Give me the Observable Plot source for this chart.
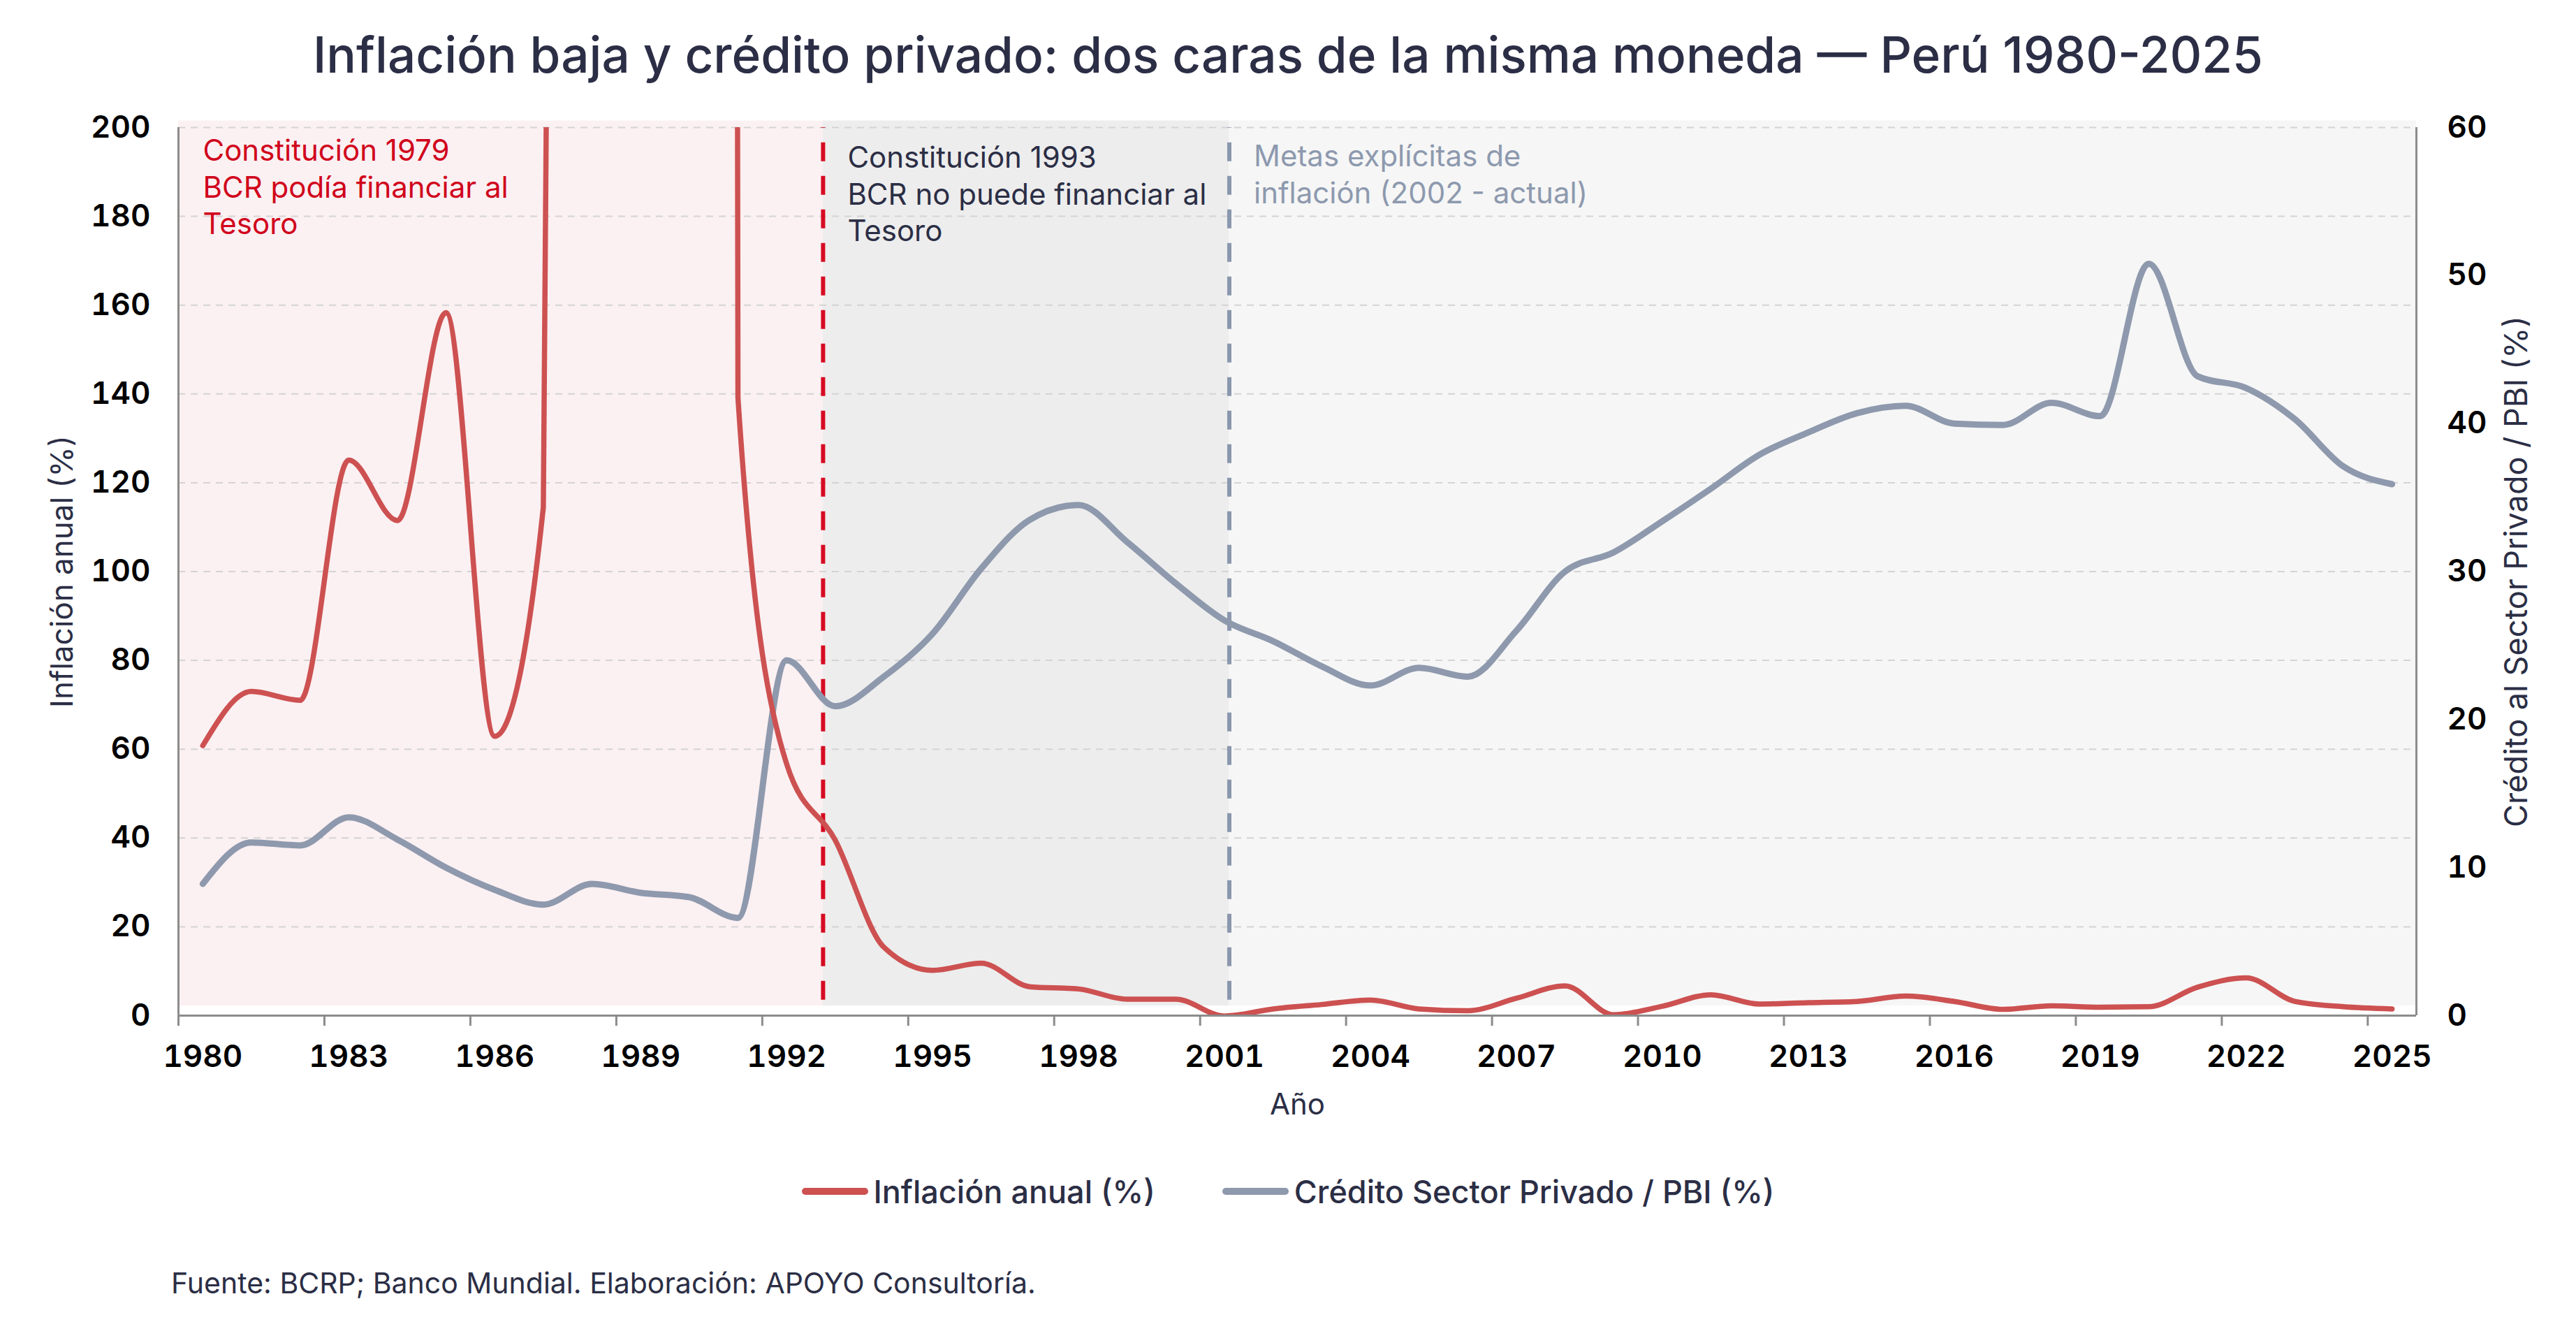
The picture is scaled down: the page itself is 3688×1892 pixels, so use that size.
<!DOCTYPE html>
<html><head><meta charset="utf-8">
<script src="https://cdn.jsdelivr.net/npm/d3@7"></script>
<script src="https://cdn.jsdelivr.net/npm/@observablehq/plot@0.6"></script>
<style>
html,body{margin:0;padding:0;background:#fff;}
#root{position:relative;width:3688px;height:1892px;font-family:Inter,"Noto Sans",sans-serif;color:#2b2e45;overflow:hidden;}
#title{position:absolute;left:0;width:3688px;top:43px;text-align:center;font-size:71px;font-weight:500;line-height:1;white-space:nowrap;}
#chart{position:absolute;left:0;top:130px;}
#legend{position:absolute;left:0;width:3688px;top:1680px;height:50px;display:flex;justify-content:center;align-items:center;font-size:45px;font-weight:500;}
.item{display:flex;align-items:center;margin:0 48px;}
.sw{width:95px;height:10px;border-radius:5px;margin-right:8px;}
#caption{position:absolute;left:245px;top:1816px;font-size:41px;line-height:1;white-space:nowrap;}
</style></head>
<body>
<div id="root">
  <div id="title"></div>
  <div id="chart"></div>
  <div id="legend"></div>
  <div id="caption"></div>
</div>
<script>
// ---- data ----
const years = [1980,1981,1982,1983,1984,1985,1986,1987,1988,1989,
               1990,1991,1992,1993,1994,1995,1996,1997,1998,1999,
               2000,2001,2002,2003,2004,2005,2006,2007,2008,2009,
               2010,2011,2012,2013,2014,2015,2016,2017,2018,2019,
               2020,2021,2022,2023,2024,2025];
const inflation = [60.8,73.0,71.0,125.1,111.5,158.3,62.9,114.5,1722.3,2775.3,
                   7649.6,139.2,56.7,39.5,15.4,10.2,11.8,6.5,6.0,3.7,
                   3.7,-0.1,1.5,2.5,3.5,1.5,1.1,3.9,6.7,0.2,
                   2.1,4.7,2.6,2.9,3.2,4.4,3.2,1.4,2.2,1.9,
                   2.0,6.4,8.5,3.2,2.0,1.5];
const credit = [8.9,11.7,11.5,13.4,11.9,10.0,8.5,7.5,8.9,8.3,
                8.0,6.6,24.0,20.9,22.9,25.8,30.2,33.5,34.5,32.0,
                29.2,26.7,25.3,23.6,22.3,23.5,22.9,26.0,30.0,31.3,
                33.4,35.6,37.9,39.4,40.7,41.2,40.0,39.9,41.4,40.5,
                50.8,43.2,42.4,40.3,37.1,35.9];
const xTicks = [1980,1983,1986,1989,1992,1995,1998,2001,2004,2007,2010,2013,2016,2019,2022,2025];
const leftTicks = [0,20,40,60,80,100,120,140,160,180,200];
const rightTicks = [0,10,20,30,40,50,60];
const regimeStarts = [1980, 1993.25, 2001.6];
const regimeEnds = [1993.25, 2001.6, 2026];
const regimeFills = ["#fbf0f2", "#ededed", "#f6f6f6"];
const ruleYears = [1993.25, 2001.6];
const ruleColors = ["#d60b22", "#8a97ad"];
const annotationTexts = [
  "Constitución 1979\nBCR podía financiar al\nTesoro",
  "Constitución 1993\nBCR no puede financiar al\nTesoro",
  "Metas explícitas de\ninflación (2002 - actual)"
];
const annotationColors = ["#d0021b", "#2b2e45", "#8d99ae"];
const seriesNames = ["Inflación anual (%)", "Crédito Sector Privado / PBI (%)"];
const seriesColors = ["#cd5151", "#8e99ad"];
const titleText = "Inflación baja y crédito privado: dos caras de la misma moneda — Perú 1980-2025";
const captionText = "Fuente: BCRP; Banco Mundial. Elaboración: APOYO Consultoría.";
const yLabelLeft = "Inflación anual (%)";
const yLabelRight = "Crédito al Sector Privado / PBI (%)";
const xLabel = "Año";

// ---- tables ----
const RMAX = 60, LMAX = 200, MID = 0.5;
const rows = years.map((y, i) => ({year: y, inflation: inflation[i], credit: credit[i]}));
const regimes = regimeStarts.map((s, i) => ({start: s, end: regimeEnds[i], fill: regimeFills[i]}));
const events = ruleYears.map((y, i) => ({year: y, color: ruleColors[i]}));
const annots = annotationTexts.map((t, i) => ({x: regimeStarts[i], text: t, color: annotationColors[i]}));
const annotDy = [11, 21, 19];

document.getElementById("title").textContent = titleText;
document.getElementById("caption").textContent = captionText;
const leg = document.getElementById("legend");
seriesNames.forEach((n, i) => {
  const it = document.createElement("div"); it.className = "item";
  const sw = document.createElement("div"); sw.className = "sw"; sw.style.background = seriesColors[i];
  const tx = document.createElement("span"); tx.textContent = n;
  it.append(sw, tx); leg.append(it);
});

const AX = "#8c8c8c";
const chart = Plot.plot({
  width: 3688, height: 1480,
  marginTop: 52, marginBottom: 157, marginLeft: 255, marginRight: 229,
  style: {fontFamily: 'Inter, "Noto Sans", sans-serif', background: "transparent", overflow: "visible"},
  x: {domain: [1980, 2026]},
  y: {domain: [0, LMAX]},
  color: {type: "identity"},
  marks: [
    Plot.rect(regimes, {x1: "start", x2: "end", y1: 2.2, y2: 201.5, fill: "fill"}),
    Plot.ruleY(leftTicks.filter(d => d > 0), {y: d => d, stroke: "#d4d4d4", strokeWidth: 2, strokeDasharray: "10,8"}),
    Plot.ruleX(events, {x: "year", y1: 3.5, y2: LMAX, stroke: "color", strokeWidth: 6, strokeDasharray: "27,21"}),
    Plot.line(rows, {x: d => d.year + MID, y: d => d.credit * LMAX / RMAX, stroke: seriesColors[1], strokeWidth: 9, curve: "monotone-x", clip: true}),
    Plot.line(rows, {x: d => d.year + MID, y: "inflation", stroke: seriesColors[0], strokeWidth: 7.5, curve: "monotone-x", clip: true}),
    Plot.ruleX([1980, 2026], {stroke: AX, strokeWidth: 3}),
    Plot.ruleY([0], {stroke: AX, strokeWidth: 3}),
    Plot.axisX({ticks: xTicks, tickFormat: () => "", tickSize: 15, stroke: AX, strokeWidth: 3, label: null}),
    Plot.axisX({ticks: xTicks.map(d => d + MID), tickFormat: d => String(d - MID), tickSize: 0, tickPadding: 42, fontSize: 44, fontWeight: 600, fill: "#000", label: null}),
    Plot.axisY({ticks: leftTicks, tickSize: 0, tickPadding: 40, fontSize: 44, fontWeight: 600, fill: "#000", label: null}),
    Plot.axisY({anchor: "right", ticks: rightTicks.map(v => v * LMAX / RMAX), tickFormat: v => String(Math.round(v * RMAX / LMAX)), tickSize: 0, tickPadding: 44, fontSize: 44, fontWeight: 600, fill: "#000", label: null}),
    Plot.text([yLabelLeft], {frameAnchor: "left", textAnchor: "middle", dx: -166, rotate: -90, fontSize: 44, fill: "#2b2e45"}),
    Plot.text([yLabelRight], {frameAnchor: "right", textAnchor: "middle", dx: 144, rotate: -90, fontSize: 45, fill: "#2b2e45"}),
    Plot.text([xLabel], {frameAnchor: "bottom", dy: 141, fontSize: 42, fill: "#2b2e45"}),
    ...annots.map((a, i) => Plot.text([a], {x: "x", y: LMAX, text: "text", fill: "color", textAnchor: "start", lineAnchor: "top", dx: 35, dy: annotDy[i], fontSize: 42, lineHeight: 1.24}))
  ]
});
document.getElementById("chart").append(chart);
</script>
</body></html>
